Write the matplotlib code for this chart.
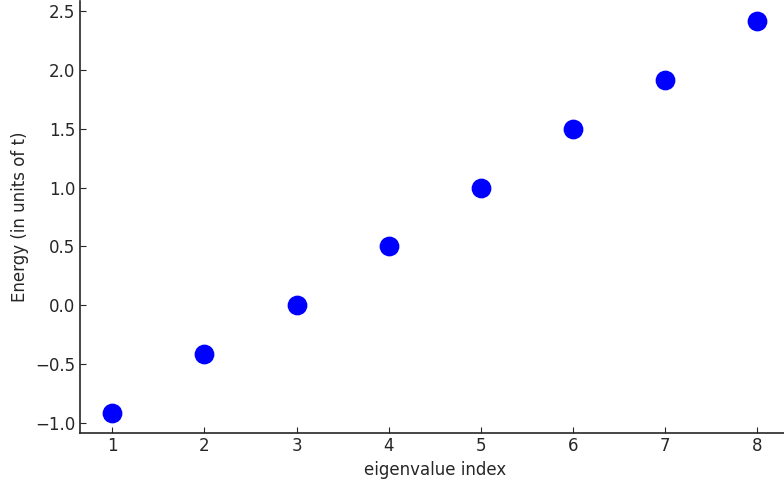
import matplotlib
matplotlib.use("Agg")
import matplotlib.pyplot as plt

# eigenvalue index and energies (units of t)
index = [1, 2, 3, 4, 5, 6, 7, 8]
energy = [-0.914, -0.414, 0.0, 0.5, 1.0, 1.5, 1.914, 2.414]

dark = "#262626"
plt.rcParams["font.size"] = 12

fig = plt.figure(figsize=(7.84, 4.8), dpi=100)
ax = fig.add_axes([80 / 784, 47.5 / 480, 709.5 / 784, 431 / 480])

ax.scatter(index, energy, s=175, color="blue", zorder=3)

ax.set_xlabel("eigenvalue index", color=dark)
ax.set_ylabel("Energy (in units of t)", color=dark)
ax.set_xticks(index)
ax.set_yticks([-1.0, -0.5, 0.0, 0.5, 1.0, 1.5, 2.0, 2.5])

ax.tick_params(direction="in", colors=dark, labelcolor=dark, length=4)
for side in ["top", "right"]:
    ax.spines[side].set_visible(False)
for side in ["left", "bottom"]:
    ax.spines[side].set_color(dark)
    ax.spines[side].set_linewidth(1.2)

fig.savefig("out.png", dpi=100)
